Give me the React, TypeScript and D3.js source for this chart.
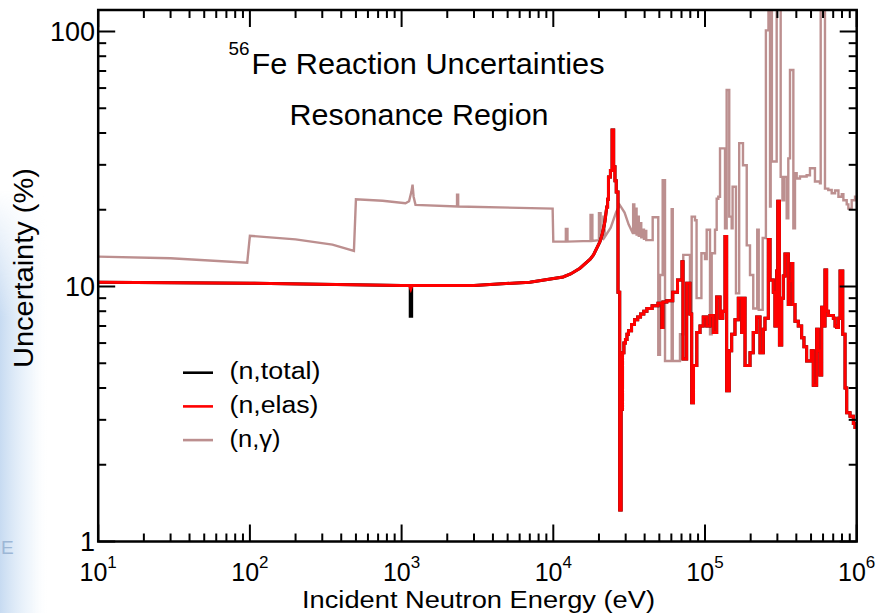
import React from 'react';
import * as d3 from 'd3';

const W = 879;
const H = 613;
const PL = 98.2, PR = 856.7, PT = 10, PB = 541.5;

const xDecades = [10, 100, 1000, 10000, 100000, 1000000];
const xExponents = ['1', '2', '3', '4', '5', '6'];
const yTickValues = [1, 10, 100];
const yTickLabels = ['1', '10', '100'];

const legendLabels = ['(n,total)', '(n,elas)', '(n,\u03b3)'];
const legendColors = ['#000000', '#ff0000', '#bc8f8f'];

// (n,gamma) smooth part (linear between points)
const capSmoothE = [10, 30, 96, 100, 200, 350, 485, 500, 750, 1060, 1120, 1160, 1181, 1200, 1235, 2320, 2320, 2360, 2360, 9900, 10000, 12100, 12100, 12400, 12400, 17600, 17600, 18100, 18100, 20000, 20000, 20500, 20500, 21400, 21400, 21800, 21800, 23900, 25900, 27400, 29500, 31400, 33400];
const capSmoothU = [13.1, 12.9, 12.4, 15.8, 15.3, 14.6, 13.8, 22.0, 21.7, 21.2, 21.6, 23.5, 25.1, 22.5, 20.9, 20.6, 22.9, 22.9, 20.6, 20.2, 15.0, 15.0, 16.8, 16.8, 15.0, 15.1, 19.1, 19.1, 15.1, 15.2, 19.4, 19.4, 15.3, 15.4, 18.8, 18.8, 15.6, 17.0, 19.5, 20.9, 19.5, 17.5, 16.2];
// (n,gamma) histogram part (value from this energy on)
const capStepE = [33600, 34200, 34800, 35400, 36000, 36600, 37300, 38000, 38800, 39600, 40400, 41000, 45200, 49200, 50500, 52600, 54500, 60300, 61300, 68400, 71900, 79600, 81700, 85900, 88000, 94700, 100000, 102600, 107900, 110700, 116400, 119400, 122400, 125600, 135500, 138900, 144500, 149900, 152000, 160000, 168000, 178000, 188400, 198000, 208000, 221000, 226000, 240000, 252000, 262000, 268300, 271000, 276000, 296800, 315400, 324000, 332000, 345500, 354100, 363300, 382300, 392000, 402100, 422600, 467700, 492000, 530600, 572500, 579000, 617900, 649600, 684200, 720000, 757800, 797400, 817000, 859300, 881100, 926800, 974900];
const capStepU = [21.0, 16.2, 20.2, 16.0, 18.8, 15.8, 17.7, 15.6, 16.7, 15.4, 16.5, 15.2, 18.7, 5.4, 11.1, 26.1, 5.1, 20.1, 5.1, 6.5, 13.3, 7.8, 18.8, 18.2, 9.0, 13.5, 12.8, 16.7, 6.5, 13.5, 16.7, 22.1, 22.5, 34.8, 16.9, 59, 18.8, 16.9, 24.6, 9.4, 36.5, 29.9, 14.5, 11.1, 8.2, 16.7, 8.1, 15.5, 101, 130, 20.6, 130, 30.9, 130, 26.9, 21.8, 26.9, 18.5, 31.8, 70.6, 16.9, 27.8, 26.5, 27.0, 27.3, 29.1, 25.8, 25.4, 130, 24.2, 23.9, 23.2, 23.8, 22.5, 23.0, 21.8, 21.0, 20.2, 21.8, 22.5];

// (n,elas) smooth part
const elasSmoothE = [10, 100, 1000, 1130, 1150, 1170, 3000, 7000, 11600, 13000, 15000, 17500, 18400, 20300, 21000, 21900, 22500];
const elasSmoothU = [10.4, 10.3, 10.1, 10.1, 9.8, 10.1, 10.1, 10.4, 10.9, 11.2, 11.8, 12.8, 13.3, 15.0, 16.0, 18.0, 20.5];
// (n,elas) histogram part
const elasStepE = [22800, 23100, 23800, 24400, 25000, 25500, 26000, 26700, 27400, 28000, 28600, 29200, 29900, 30600, 31300, 32800, 34300, 36000, 37600, 39500, 41400, 44800, 49000, 51900, 52800, 56000, 61300, 65900, 70500, 71600, 75700, 79600, 81700, 84000, 88300, 92700, 97400, 102600, 107900, 113500, 119400, 125600, 130900, 135500, 138900, 144500, 149900, 157600, 165800, 174600, 179000, 183600, 198000, 208000, 218900, 230500, 242300, 248500, 261500, 268300, 282000, 289200, 296800, 301700, 309500, 320300, 328300, 336800, 354100, 359700, 372900, 378700, 392000, 412000, 433600, 449000, 467700, 502300, 517400, 544400, 558500, 572500, 587700, 602300, 617900, 633600, 649600, 701900, 720000, 738700, 757800, 777000, 809000, 837800, 859300, 903700, 950500, 974900];
const elasStepU = [22.0, 26.9, 28.5, 41.1, 29.5, 26.0, 23.5, 9.5, 1.33, 3.3, 5.5, 6.0, 6.2, 6.5, 6.7, 7.1, 7.4, 7.6, 7.8, 8.0, 8.2, 8.4, 8.6, 6.9, 8.7, 8.8, 9.5, 10.6, 12.5, 5.2, 10.3, 7.8, 3.5, 4.9, 6.6, 7.0, 7.6, 7.0, 7.7, 6.6, 9.1, 7.5, 8.0, 15.7, 3.9, 5.6, 6.5, 7.4, 9.0, 6.6, 9.0, 4.9, 5.5, 6.6, 7.6, 5.5, 6.8, 7.5, 15.3, 10.6, 9.5, 7.0, 11.5, 21.6, 5.9, 9.0, 11.0, 13.4, 8.5, 10.5, 12.3, 8.5, 7.3, 7.0, 6.3, 5.8, 5.1, 5.6, 4.1, 6.8, 5.6, 4.5, 8.3, 7.0, 11.6, 8.0, 7.7, 7.5, 7.0, 6.9, 7.5, 11.5, 6.5, 4.0, 3.2, 3.1, 2.9, 2.8];

// (n,total): low-energy part differs (dip near 1.15 keV), above it follows (n,elas)
const totalLowE = [10, 100, 1000, 1140, 1140, 1165, 1165, 3000];
const totalLowU = [10.4, 10.3, 10.1, 10.1, 7.65, 7.65, 10.1, 10.1];

const EMAX = 1e6;

type Pt = [number, number];

function buildPoints(sE: number[], sU: number[], stE: number[], stU: number[]): Pt[] {
  const pts: Pt[] = sE.map((e, i) => [e, sU[i]] as Pt);
  let prev = pts[pts.length - 1][1];
  stE.forEach((e, i) => {
    pts.push([e, prev]);
    pts.push([e, stU[i]]);
    prev = stU[i];
  });
  pts.push([EMAX, prev]);
  return pts;
}

const FONT = '"Liberation Sans", Arial, Helvetica, sans-serif';

export default function App() {
  const x = d3.scaleLog().domain([10, 1e6]).range([PL, PR]);
  const y = d3.scaleLog().domain([1, 100]).range([PB, 31.5]);

  const capPts = buildPoints(capSmoothE, capSmoothU, capStepE, capStepU);
  const elasPts = buildPoints(elasSmoothE, elasSmoothU, elasStepE, elasStepU);
  const totalPts: Pt[] = [
    ...totalLowE.map((e, i) => [e, totalLowU[i]] as Pt),
    ...elasPts.filter((p) => p[0] > 3000),
  ];

  const line = d3
    .line<Pt>()
    .x((d) => x(d[0]))
    .y((d) => y(d[1]));

  const xMinor: number[] = [];
  xDecades.slice(0, -1).forEach((d) => {
    for (let k = 2; k <= 9; k++) xMinor.push(d * k);
  });
  const yMinor: number[] = [];
  [1, 10].forEach((d) => {
    for (let k = 2; k <= 9; k++) yMinor.push(d * k);
  });

  const MAJ = 17, MIN = 8;
  const legendLens = [91, 89, 51];

  return (
    <svg
      width={W}
      height={H}
      style={{ position: 'fixed', left: 0, top: 0, background: '#fff' }}
      fontFamily={FONT}
    >
      <defs>
        <clipPath id="plot">
          <rect x={PL} y={PT} width={PR - PL} height={PB - PT} />
        </clipPath>
        <linearGradient id="bgH" x1="0" x2="1" y1="0" y2="0">
          <stop offset="0" stopColor="#c4d9f1" stopOpacity="0.95" />
          <stop offset="0.6" stopColor="#e6f0fa" stopOpacity="0.6" />
          <stop offset="1" stopColor="#ffffff" stopOpacity="0" />
        </linearGradient>
        <linearGradient id="bgV" x1="0" x2="0" y1="0" y2="1">
          <stop offset="0" stopColor="#fff" stopOpacity="0" />
          <stop offset="0.3" stopColor="#fff" stopOpacity="1" />
          <stop offset="1" stopColor="#fff" stopOpacity="1" />
        </linearGradient>
        <mask id="bgMask">
          <rect x={0} y={190} width={50} height={423} fill="url(#bgV)" />
        </mask>
      </defs>
      <rect x={0} y={0} width={W} height={H} fill="#fff" />
      <rect x={0} y={190} width={50} height={423} fill="url(#bgH)" mask="url(#bgMask)" />
      <text x={1} y={554} fontSize={19} fill="#9db7d6">E</text>

      <g clipPath="url(#plot)" fill="none">
        <path d={line(capPts) || ''} stroke="#bc8f8f" strokeWidth={2.4} />
        <path d={line(totalPts) || ''} stroke="#000" strokeWidth={3} />
        <path d={line(elasPts) || ''} stroke="#ff0000" strokeWidth={3} />
      </g>

      {/* frame */}
      <rect x={PL} y={PT} width={PR - PL} height={PB - PT} fill="none" stroke="#000" strokeWidth={2.5} />

      {/* ticks */}
      <g stroke="#000" strokeWidth={2}>
        {xDecades.map((d) => (
          <g key={'xM' + d}>
            <line x1={x(d)} x2={x(d)} y1={PB} y2={PB - MAJ} />
            <line x1={x(d)} x2={x(d)} y1={PT} y2={PT + MAJ} />
          </g>
        ))}
        {xMinor.map((d) => (
          <g key={'xm' + d}>
            <line x1={x(d)} x2={x(d)} y1={PB} y2={PB - MIN} />
            <line x1={x(d)} x2={x(d)} y1={PT} y2={PT + MIN} />
          </g>
        ))}
        {yTickValues.map((d) => (
          <g key={'yM' + d}>
            <line x1={PL} x2={PL + MAJ} y1={y(d)} y2={y(d)} />
            <line x1={PR} x2={PR - MAJ} y1={y(d)} y2={y(d)} />
          </g>
        ))}
        {yMinor.map((d) => (
          <g key={'ym' + d}>
            <line x1={PL} x2={PL + MIN} y1={y(d)} y2={y(d)} />
            <line x1={PR} x2={PR - MIN} y1={y(d)} y2={y(d)} />
          </g>
        ))}
      </g>

      {/* x tick labels */}
      {xDecades.map((d, i) => (
        <text key={'xl' + d} x={x(d)} y={581} fontSize={25} textAnchor="middle" fill="#000">
          10
          <tspan fontSize={17} dy={-13}>{xExponents[i]}</tspan>
        </text>
      ))}

      {/* y tick labels */}
      {yTickValues.map((d, i) => (
        <text key={'yl' + d} x={95} y={y(d) + 9.5} fontSize={27} textAnchor="end" fill="#000">
          {yTickLabels[i]}
        </text>
      ))}

      {/* axis titles */}
      <text x={302} y={608} fontSize={23} textLength={353} lengthAdjust="spacingAndGlyphs" fill="#000">
        Incident Neutron Energy (eV)
      </text>
      <text
        transform={`translate(33, 268) rotate(-90)`}
        x={0}
        y={0}
        fontSize={27}
        textAnchor="middle"
        textLength={200}
        lengthAdjust="spacingAndGlyphs"
        fill="#000"
      >
        Uncertainty (%)
      </text>

      {/* titles */}
      <text x={228.5} y={55} fontSize={19} textLength={21} lengthAdjust="spacingAndGlyphs" fill="#000">56</text>
      <text x={251.5} y={73.5} fontSize={29} textLength={353} lengthAdjust="spacingAndGlyphs" fill="#000">
        Fe Reaction Uncertainties
      </text>
      <text x={289.5} y={125} fontSize={29} textLength={259} lengthAdjust="spacingAndGlyphs" fill="#000">
        Resonance Region
      </text>

      {/* legend */}
      {legendLabels.map((lab, i) => {
        const ly = 372.7 + i * 33.7;
        return (
          <g key={lab}>
            <line x1={183} x2={213} y1={ly} y2={ly} stroke={legendColors[i]} strokeWidth={2.6} />
            <text x={229.5} y={ly + 6.5} fontSize={23} textLength={legendLens[i]} lengthAdjust="spacingAndGlyphs" fill="#000">
              {lab}
            </text>
          </g>
        );
      })}
    </svg>
  );
}
